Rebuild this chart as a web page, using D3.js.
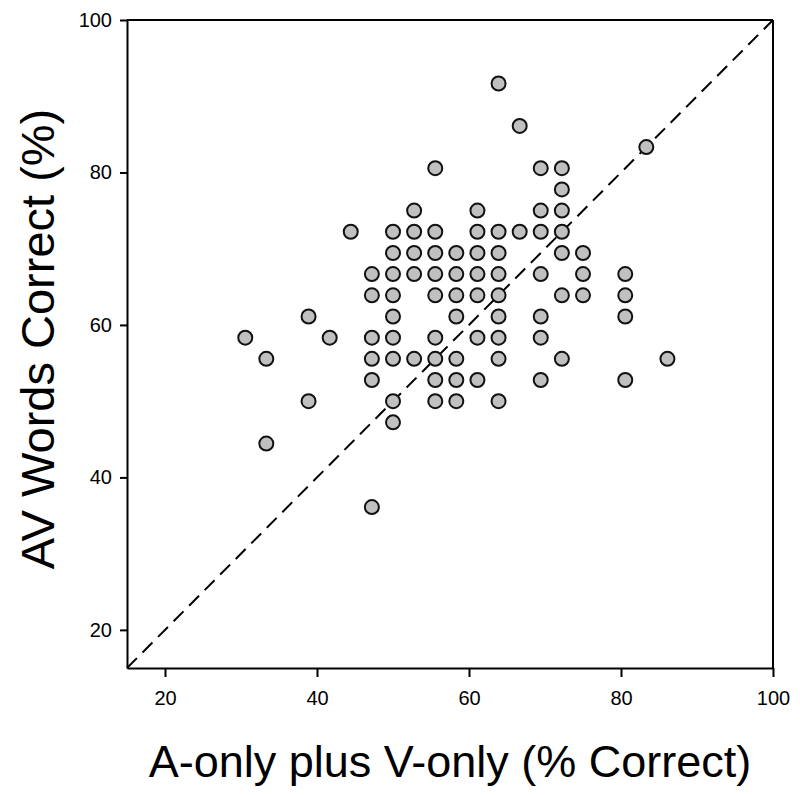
<!DOCTYPE html>
<html>
<head>
<meta charset="utf-8">
<script src="https://cdn.jsdelivr.net/npm/d3@7"></script>
<style>
  html, body { margin: 0; padding: 0; background: #fff; }
  svg { display: block; }
  text { font-family: Arial, "Liberation Sans", Helvetica, sans-serif; fill: #000; }
</style>
</head>
<body>
<svg id="chart" width="800" height="795"></svg>
<script>
// Data (percent correct; steps of 1/36)
const xValues = [
  63.89,
  66.67,
  83.33,
  55.56, 69.44, 72.22,
  72.22,
  52.78, 61.11, 69.44, 72.22,
  44.44, 50, 52.78, 55.56, 61.11, 63.89, 66.67, 69.44, 72.22,
  50, 52.78, 55.56, 58.33, 61.11, 63.89, 72.22, 75,
  47.22, 50, 52.78, 55.56, 58.33, 61.11, 63.89, 69.44, 75, 80.56,
  47.22, 50, 55.56, 58.33, 61.11, 63.89, 72.22, 75, 80.56,
  38.89, 50, 58.33, 63.89, 69.44, 80.56,
  30.56, 41.67, 47.22, 50, 55.56, 61.11, 63.89, 69.44,
  33.33, 47.22, 50, 52.78, 55.56, 58.33, 63.89, 72.22, 86.11,
  47.22, 55.56, 58.33, 61.11, 69.44, 80.56,
  38.89, 50, 55.56, 58.33, 63.89,
  50,
  33.33,
  47.22
];
const yValues = [
  91.67,
  86.11,
  83.33,
  80.56, 80.56, 80.56,
  77.78,
  75, 75, 75, 75,
  72.22, 72.22, 72.22, 72.22, 72.22, 72.22, 72.22, 72.22, 72.22,
  69.44, 69.44, 69.44, 69.44, 69.44, 69.44, 69.44, 69.44,
  66.67, 66.67, 66.67, 66.67, 66.67, 66.67, 66.67, 66.67, 66.67, 66.67,
  63.89, 63.89, 63.89, 63.89, 63.89, 63.89, 63.89, 63.89, 63.89,
  61.11, 61.11, 61.11, 61.11, 61.11, 61.11,
  58.33, 58.33, 58.33, 58.33, 58.33, 58.33, 58.33, 58.33,
  55.56, 55.56, 55.56, 55.56, 55.56, 55.56, 55.56, 55.56, 55.56,
  52.78, 52.78, 52.78, 52.78, 52.78, 52.78,
  50, 50, 50, 50, 50,
  47.22,
  44.44,
  36.11
];
const xTicks = [20, 40, 60, 80, 100];
const yTicks = [20, 40, 60, 80, 100];
const axisDomain = [15, 100];
const identityLine = [15, 100];
const xTitle = "A-only plus V-only (% Correct)";
const yTitle = "AV Words Correct (%)";

const points = xValues.map((x, i) => ({ x, y: yValues[i] }));

const svg = d3.select("#chart");
const pLeft = 127, pRight = 773, pTop = 20, pBottom = 668;

const x = d3.scaleLinear().domain(axisDomain).range([pLeft, pRight]);
const y = d3.scaleLinear().domain(axisDomain).range([pBottom, pTop]);

// Box top and right
svg.append("line").attr("x1", pLeft).attr("x2", pRight).attr("y1", pTop).attr("y2", pTop)
  .attr("stroke", "#000").attr("stroke-width", 2);
svg.append("line").attr("x1", pRight).attr("x2", pRight).attr("y1", pTop).attr("y2", pBottom)
  .attr("stroke", "#000").attr("stroke-width", 2);

// Identity dashed line
svg.append("line")
  .attr("x1", x(identityLine[0])).attr("y1", y(identityLine[0]))
  .attr("x2", x(identityLine[1])).attr("y2", y(identityLine[1]))
  .attr("stroke", "#000").attr("stroke-width", 2)
  .attr("stroke-dasharray", "14,8");

// Axes
const xAxis = d3.axisBottom(x).tickValues(xTicks).tickSize(9).tickPadding(14).tickSizeOuter(0);
const yAxis = d3.axisLeft(y).tickValues(yTicks).tickSize(7).tickPadding(8).tickSizeOuter(0);

const gx = svg.append("g").attr("transform", `translate(0,${pBottom})`).call(xAxis);
const gy = svg.append("g").attr("transform", `translate(${pLeft},0)`).call(yAxis);
[gx, gy].forEach(g => {
  g.select(".domain").attr("stroke", "#000").attr("stroke-width", 2);
  g.selectAll(".tick line").attr("stroke", "#000").attr("stroke-width", 2);
  g.selectAll(".tick text").attr("font-size", 20).attr("fill", "#222")
    .attr("font-family", "Arial, 'Liberation Sans', sans-serif");
});

// Points
svg.append("g").selectAll("circle").data(points).join("circle")
  .attr("cx", d => x(d.x)).attr("cy", d => y(d.y)).attr("r", 7)
  .attr("fill", "#c0c0c0").attr("stroke", "#111").attr("stroke-width", 2);

// Titles
svg.append("text").attr("x", 450).attr("y", 777)
  .attr("text-anchor", "middle").attr("font-size", 45).text(xTitle);
svg.append("text")
  .attr("transform", `translate(54,${339}) rotate(-90)`)
  .attr("text-anchor", "middle").attr("font-size", 47).text(yTitle);
</script>
</body>
</html>
